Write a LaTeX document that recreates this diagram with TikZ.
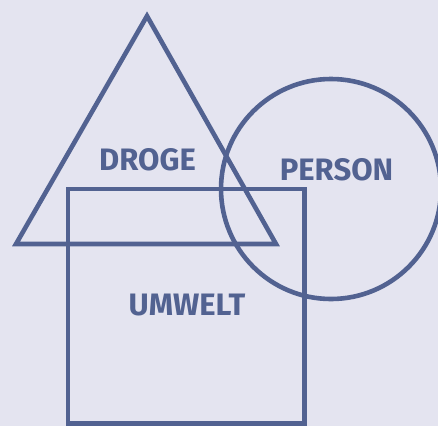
\documentclass[tikz,border=0pt]{standalone}
\usepackage{fontspec}
\setmainfont{Fira Sans}
\definecolor{venn}{RGB}{82,98,145}
\definecolor{paper}{RGB}{228,228,240}
\begin{document}
\begin{tikzpicture}[x = 1pt, y = -1pt, line width = 4.6pt,
    every node/.style = {font = \bfseries\fontsize{31}{31}\selectfont, text = venn}]
  \fill [paper] (0,0) rectangle (438,426);
  \useasboundingbox (0,0) rectangle (438,426);
  \draw [venn, line join = miter] (16,244) -- (147,16) -- (276,244) -- cycle;
  \draw [venn] (331,189) circle (110pt);
  \draw [venn] (68,189) rectangle (304.5,423.5);
  \node (droge) at (147.5,159.5) {DROGE};
  \node (person) at (336.5,169.5) {PERSON};
  \node (umwelt) at (187,305.5) {UMWELT};
\end{tikzpicture}
\end{document}
